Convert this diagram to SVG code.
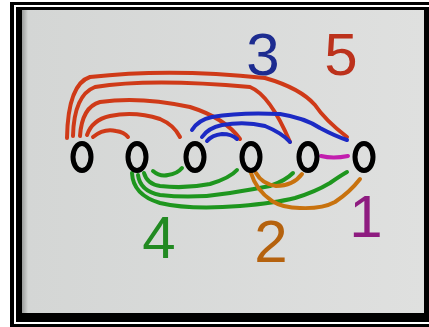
<svg xmlns="http://www.w3.org/2000/svg" width="429" height="327" viewBox="0 0 429 327">
<defs>
<linearGradient id="bg" x1="0" y1="0" x2="1" y2="0">
<stop offset="0" stop-color="#9a9c9b"/>
<stop offset="0.015" stop-color="#d4d6d5"/>
<stop offset="1" stop-color="#dfe0df"/>
</linearGradient>
<style>
.node ellipse{fill:none;stroke:#000;stroke-width:5}
.c{fill:none;stroke-width:4;stroke-linecap:round;stroke-linejoin:round}
.red{stroke:#cf3a18}
.blue{stroke:#1c2ac4}
.green{stroke:#1e961e}
.orange{stroke:#c8720e}
.mag{stroke:#c21fae}
.lbl{font-family:"Liberation Sans",Arial,sans-serif;font-size:60px;text-anchor:middle}
</style>
</defs>
<rect x="0" y="0" width="429" height="327" fill="#ffffff"/>
<rect x="10" y="2" width="419" height="325" fill="#000"/>
<rect x="14" y="5" width="415" height="319" fill="#ffffff"/>
<rect x="16" y="7" width="413" height="315" fill="#000"/>
<rect x="22" y="10" width="402" height="303" fill="url(#bg)"/>

<g id="connectors">
<g id="edges-5">
<path class="c red" d="M93,137 Q104,128 116,131 Q124,132 128,137"/>
<path class="c red" d="M87,135 Q92,120 110,116 Q135,111 160,119 Q174,125 180,137"/>
<path class="c red" d="M80,136 Q82,107 100,102 Q140,96 190,107 Q225,118 240,139"/>
<path class="c red" d="M73,136 Q74,95 95,87 Q150,78 250,87 Q270,95 290,142"/>
<path class="c red" d="M67,138 Q68,84 90,77 Q170,68 265,78 Q300,88 315,105 Q325,120 347,137"/>
</g>
<g id="edges-3">
<path class="c blue" d="M192,130 Q198,120 212,117 Q240,112 280,114 Q305,118 320,128 Q335,136 347,140"/>
<path class="c blue" d="M202,137 Q208,128 222,125 Q245,121 265,126 Q282,133 290,142"/>
<path class="c blue" d="M207,141 Q212,135 222,134 Q232,134 237,139"/>
</g>
<g id="edges-4">
<path class="c green" d="M153,171 Q160,177 168,175 Q177,174 182,168"/>
<path class="c green" d="M144,173 Q147,184 160,186 Q185,189 210,184 Q230,178 237,170"/>
<path class="c green" d="M138,175 Q140,191 160,195 Q195,199 230,193 Q255,189 270,186 Q285,181 293,173"/>
<path class="c green" d="M132,173 Q133,195 160,203 Q190,210 240,206 Q275,203 295,198 Q315,192 330,183 Q340,176 347,172"/>
</g>
<g id="edges-2">
<path class="c orange" d="M256,173 Q262,184 276,186 Q293,186 302,174"/>
<path class="c orange" d="M251,173 Q256,190 272,201 Q283,208 300,208 Q322,209 335,202 Q350,192 360,179"/>
</g>
<g id="edges-1">
<path class="c mag" d="M321,156 Q333,159 348,156"/>
</g>
</g>

<g id="node1" class="node"><ellipse cx="82" cy="157" rx="9" ry="13.5"/></g>
<g id="node2" class="node"><ellipse cx="137" cy="157" rx="9" ry="13.5"/></g>
<g id="node3" class="node"><ellipse cx="195" cy="157" rx="9" ry="13.5"/></g>
<g id="node4" class="node"><ellipse cx="251" cy="157" rx="9" ry="13.5"/></g>
<g id="node5" class="node"><ellipse cx="308" cy="157" rx="9" ry="13.5"/></g>
<g id="node6" class="node"><ellipse cx="364" cy="157" rx="9" ry="13.5"/></g>

<g id="labels">
<text class="lbl" x="263" y="75" fill="#1d2c90">3</text>
<text class="lbl" x="341" y="75" fill="#bc321c">5</text>
<text class="lbl" x="159" y="258" fill="#228a22">4</text>
<text class="lbl" x="271" y="262" fill="#b5620e">2</text>
<text class="lbl" x="366" y="237" fill="#8e1c80">1</text>
</g>
</svg>
